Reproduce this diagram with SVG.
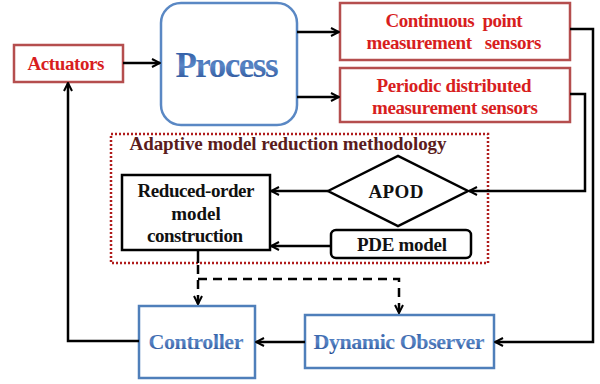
<svg xmlns="http://www.w3.org/2000/svg" width="600" height="384" viewBox="0 0 600 384">
<defs>
<linearGradient id="blueText" x1="0" y1="0" x2="0" y2="1">
<stop offset="0" stop-color="#1f4c98"/>
<stop offset="0.5" stop-color="#5a86c6"/>
<stop offset="1" stop-color="#1d468e"/>
</linearGradient>
<marker id="arr" viewBox="0 0 10 10" refX="9" refY="5" markerWidth="10" markerHeight="10" markerUnits="userSpaceOnUse" orient="auto">
<path d="M1,1 L9,5 L1,9" fill="none" stroke="#000" stroke-width="2"/>
</marker>
<style>
.t{font-family:"Liberation Serif","Times New Roman",serif;font-weight:bold;text-anchor:middle}
.red{fill:#d81e1e;font-size:19px}
.blk{fill:#111;font-size:19px}
.blue{fill:url(#blueText);font-size:22px}
.rbox{fill:#fff;stroke:#b54e4e;stroke-width:2.5}
.bbox{fill:#fff;stroke:#4f7fba;stroke-width:2.5}
.kbox{fill:#fff;stroke:#000;stroke-width:2.5}
.c{fill:none;stroke:#000;stroke-width:2.5}
.d{fill:none;stroke:#000;stroke-width:2.5;stroke-dasharray:9,6}
</style>
</defs>
<rect width="600" height="384" fill="#fff"/>

<g id="method">
<rect x="111" y="134" width="377" height="129" fill="none" stroke="#b01c1c" stroke-width="2.5" stroke-dasharray="2,2"/>
<text class="t" x="288" y="150" fill="#5a1c1c" font-size="19" textLength="317">Adaptive model reduction methodology</text>
</g>

<g id="actuators">
<rect class="rbox" x="14" y="45" width="109" height="37"/>
<text class="t red" x="66" y="70" textLength="77">Actuators</text>
</g>

<g id="process">
<rect x="161" y="3" width="136" height="122" rx="20" fill="#fff" stroke="#5a88c4" stroke-width="2.5"/>
<text class="t" x="227" y="77" font-size="35" fill="url(#blueText)" textLength="103">Process</text>
</g>

<g id="continuous">
<rect class="rbox" x="340" y="3" width="230" height="57"/>
<text class="t red" x="454" y="27" textLength="137" xml:space="preserve">Continuous  point</text>
<text class="t red" x="454" y="49" textLength="175" xml:space="preserve">measurement   sensors</text>
</g>

<g id="periodic">
<rect class="rbox" x="340" y="68" width="230" height="54"/>
<text class="t red" x="454" y="92" textLength="155">Periodic distributed</text>
<text class="t red" x="455" y="114" textLength="166">measurement sensors</text>
</g>

<g id="reduced">
<rect class="kbox" x="122" y="175" width="148" height="75"/>
<text class="t blk" x="196" y="197" textLength="117">Reduced-order</text>
<text class="t blk" x="196" y="220">model</text>
<text class="t blk" x="195" y="242" textLength="96">construction</text>
</g>

<g id="apod">
<polygon class="kbox" points="328,191 398,156 468,191 398,226"/>
<text class="t blk" x="396" y="198" font-size="20" textLength="55">APOD</text>
</g>

<g id="pde">
<rect class="kbox" x="331" y="230" width="140" height="28" rx="5"/>
<text class="t blk" x="402" y="251" textLength="90">PDE model</text>
</g>

<g id="controller">
<rect class="bbox" x="139" y="306" width="116" height="72"/>
<text class="t blue" x="196" y="349" textLength="95">Controller</text>
</g>

<g id="observer">
<rect class="bbox" x="305" y="315" width="189" height="53"/>
<text class="t blue" x="399" y="349" textLength="171">Dynamic Observer</text>
</g>

<g id="connectors">
<path class="c" d="M123,63 H160" marker-end="url(#arr)"/>
<path class="c" d="M297,32 H339" marker-end="url(#arr)"/>
<path class="c" d="M297,97 H339" marker-end="url(#arr)"/>
<path class="c" d="M570,29 H593 V342 H495" marker-end="url(#arr)"/>
<path class="c" d="M570,94 H585 V191 H469" marker-end="url(#arr)"/>
<path class="c" d="M328,191 H271" marker-end="url(#arr)"/>
<path class="c" d="M331,246 H271" marker-end="url(#arr)"/>
<path class="c" d="M198,250 V263"/>
<path class="d" d="M198,265 V304" marker-end="url(#arr)"/>
<path class="d" d="M198,279 H399 V313" marker-end="url(#arr)"/>
<path class="c" d="M305,342 H256" marker-end="url(#arr)"/>
<path class="c" d="M139,341 H68 V83" marker-end="url(#arr)"/>
</g>
</svg>
